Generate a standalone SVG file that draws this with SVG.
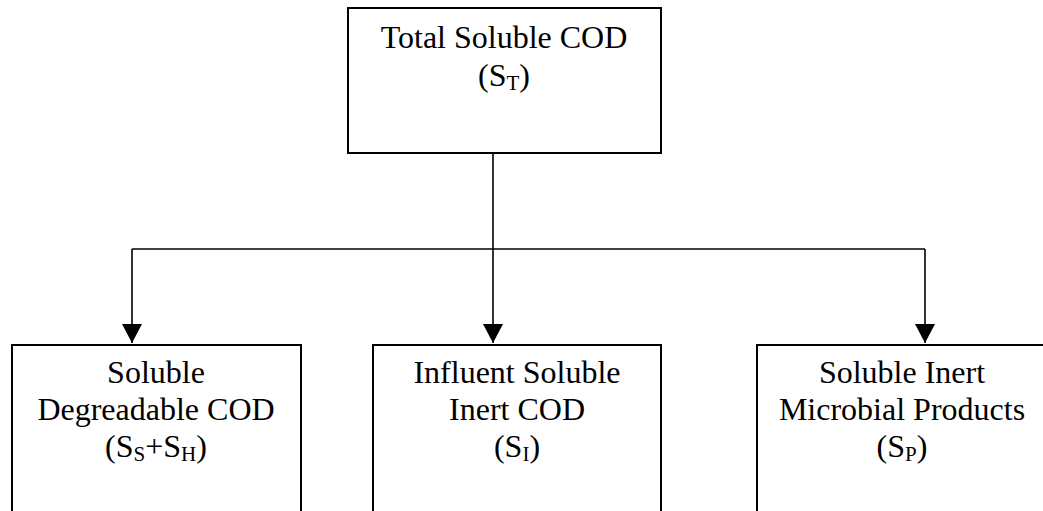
<svg xmlns="http://www.w3.org/2000/svg" width="1043" height="511" viewBox="0 0 1043 511">
  <style>
    .box { fill: #ffffff; stroke: #000000; stroke-width: 2; }
    .wire { fill: none; stroke: #000000; stroke-width: 1.6; }
    .lbl { font-family: "Liberation Serif", "Times New Roman", serif; font-size: 32px; fill: #000000; text-anchor: middle; }
    .sub { font-size: 21px; }
  </style>
  <defs>
    <marker id="head" markerWidth="20" markerHeight="19" refX="10" refY="19" orient="0" markerUnits="userSpaceOnUse">
      <path d="M0,0 L20,0 L10,19 Z" fill="#000000"/>
    </marker>
  </defs>

  <rect width="1043" height="511" fill="#ffffff"/>

  <!-- connectors: trunk from the total, bus, and three drops -->
  <g id="connectors">
    <line class="wire" x1="493" y1="153" x2="493" y2="249"/>
    <line class="wire" x1="132" y1="249" x2="925" y2="249"/>
    <line class="wire" x1="132" y1="249" x2="132" y2="343" marker-end="url(#head)"/>
    <line class="wire" x1="493" y1="249" x2="493" y2="343" marker-end="url(#head)"/>
    <line class="wire" x1="925" y1="249" x2="925" y2="343" marker-end="url(#head)"/>
  </g>

  <g id="total">
    <rect class="box" x="348" y="8" width="313" height="145"/>
    <text class="lbl" x="504" y="48">Total Soluble COD</text>
    <text class="lbl" x="504" y="86">(S<tspan class="sub" dy="4">T</tspan><tspan dy="-4">)</tspan></text>
  </g>

  <g id="degradable">
    <rect class="box" x="12" y="345" width="289" height="180"/>
    <text class="lbl" x="156" y="383">Soluble</text>
    <text class="lbl" x="156" y="420">Degreadable COD</text>
    <text class="lbl" x="156" y="457">(S<tspan class="sub" dy="4">S</tspan><tspan dy="-4">+S</tspan><tspan class="sub" dy="4">H</tspan><tspan dy="-4">)</tspan></text>
  </g>

  <g id="influent-inert">
    <rect class="box" x="373" y="345" width="288" height="180"/>
    <text class="lbl" x="517" y="383">Influent Soluble</text>
    <text class="lbl" x="517" y="420">Inert COD</text>
    <text class="lbl" x="517" y="457">(S<tspan class="sub" dy="4">I</tspan><tspan dy="-4">)</tspan></text>
  </g>

  <g id="microbial-products">
    <rect class="box" x="757" y="345" width="290" height="180"/>
    <text class="lbl" x="902" y="383">Soluble Inert</text>
    <text class="lbl" x="902" y="420">Microbial Products</text>
    <text class="lbl" x="902" y="457">(S<tspan class="sub" dy="4">P</tspan><tspan dy="-4">)</tspan></text>
  </g>
</svg>
